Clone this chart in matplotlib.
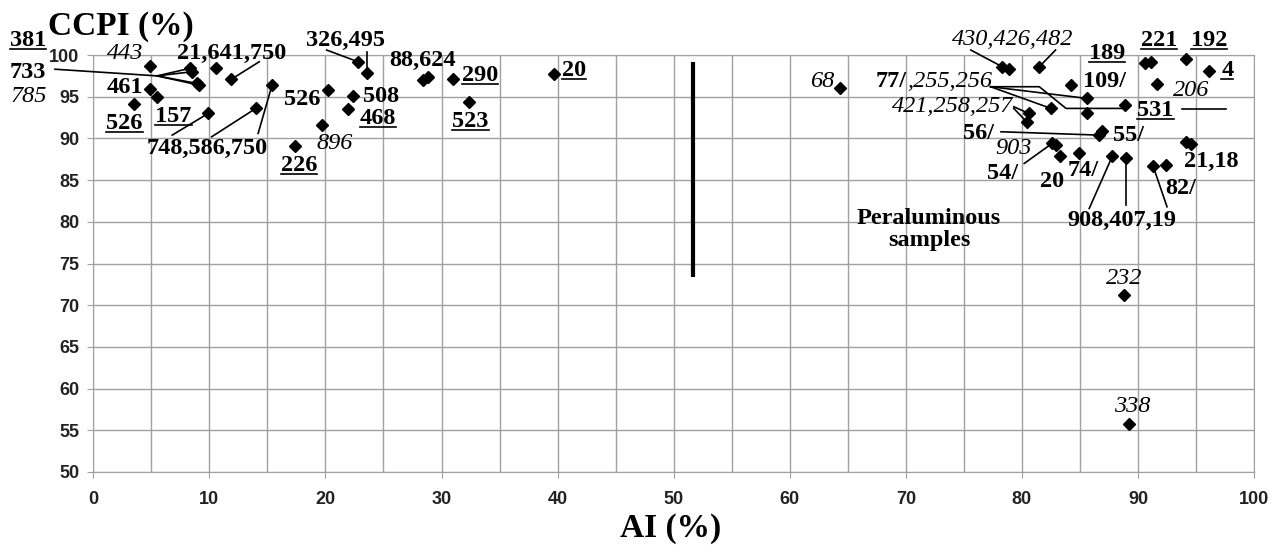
import matplotlib.pyplot as plt
from matplotlib.lines import Line2D

# AI (%) and CCPI (%)
ai = [4.9, 8.3, 8.5, 8.9, 9.1, 10.6, 11.9, 4.9, 5.5, 3.5, 9.9, 14.0, 15.4, 17.4, 19.7, 20.2,
      22.8, 23.6, 22.4, 21.9, 28.4, 28.8, 31.0, 32.4, 39.7,
      64.3, 78.3, 78.9, 81.5, 84.2, 85.6, 82.5, 85.6, 88.9, 80.6, 80.4, 86.6, 86.9,
      82.6, 82.9, 83.3, 84.9, 87.8, 89.0, 91.3, 92.4, 94.1, 94.6,
      90.6, 91.1, 94.1, 96.1, 91.6, 88.8, 89.2]
ccpi = [98.7, 98.4, 98.0, 96.6, 96.4, 98.4, 97.1, 95.9, 95.0, 94.1, 93.0, 93.6, 96.4, 89.1, 91.6, 95.8,
        99.2, 97.8, 95.1, 93.5, 97.0, 97.4, 97.1, 94.4, 97.7,
        96.0, 98.6, 98.3, 98.6, 96.4, 94.8, 93.6, 93.0, 94.0, 93.0, 92.0, 90.4, 90.9,
        89.4, 89.2, 87.9, 88.2, 87.9, 87.6, 86.7, 86.8, 89.6, 89.3,
        99.0, 99.2, 99.5, 98.1, 96.5, 71.2, 55.8]

# boundary bar
bar_x = [51.7, 51.7]
bar_y = [73.4, 99.2]

# sample labels: text, x, y, weight, style, underline
labels = [
    ("381", -5.6, 101.8, "bold", "normal", True),
    ("733", -5.6, 97.9, "bold", "normal", False),
    ("785", -5.6, 95.0, "normal", "italic", False),
    ("443", 2.7, 100.2, "normal", "italic", False),
    ("461", 2.7, 96.1, "bold", "normal", False),
    ("526", 2.7, 91.8, "bold", "normal", True),
    ("157", 6.9, 92.6, "bold", "normal", True),
    ("21,641,750", 11.9, 100.2, "bold", "normal", False),
    ("748,586,750", 9.8, 88.8, "bold", "normal", False),
    ("526", 18.0, 94.7, "bold", "normal", False),
    ("226", 17.7, 86.8, "bold", "normal", True),
    ("896", 20.8, 89.4, "normal", "italic", False),
    ("326,495", 21.7, 101.8, "bold", "normal", False),
    ("508", 24.8, 95.0, "bold", "normal", False),
    ("468", 24.5, 92.4, "bold", "normal", True),
    ("88,624", 28.4, 99.3, "bold", "normal", False),
    ("290", 33.3, 97.6, "bold", "normal", True),
    ("523", 32.5, 92.0, "bold", "normal", True),
    ("20", 41.4, 98.2, "bold", "normal", True),
    ("68", 62.8, 96.8, "normal", "italic", False),
    ("430,426,482", 79.2, 101.9, "normal", "italic", False),
    ("189", 87.3, 100.2, "bold", "normal", True),
    ("221", 91.8, 101.8, "bold", "normal", True),
    ("192", 96.1, 101.8, "bold", "normal", True),
    ("4", 97.7, 98.2, "bold", "normal", True),
    ("109/", 87.1, 96.8, "bold", "normal", False),
    ("206", 94.6, 95.8, "normal", "italic", False),
    ("421,258,257", 74.0, 93.8, "normal", "italic", False),
    ("531", 91.5, 93.4, "bold", "normal", True),
    ("56/", 76.3, 90.6, "bold", "normal", False),
    ("55/", 89.2, 90.4, "bold", "normal", False),
    ("903", 79.3, 88.8, "normal", "italic", False),
    ("54/", 78.3, 85.8, "bold", "normal", False),
    ("20", 82.6, 84.8, "bold", "normal", False),
    ("74/", 85.3, 86.2, "bold", "normal", False),
    ("908,407,19", 88.6, 80.2, "bold", "normal", False),
    ("82/", 93.7, 84.0, "bold", "normal", False),
    ("21,18", 96.3, 87.2, "bold", "normal", False),
    ("232", 88.8, 73.2, "normal", "italic", False),
    ("338", 89.5, 57.8, "normal", "italic", False),
]

# leader lines (x list, y list)
leaders = [
    ([-3.3, 5.5], [98.3, 97.5]),
    ([5.5, 8.3], [97.5, 98.4]), ([5.5, 8.5], [97.5, 98.0]),
    ([5.5, 8.9], [97.5, 96.6]), ([5.5, 9.1], [97.5, 96.4]),
    ([14.3, 11.9], [99.2, 97.1]),
    ([6.8, 9.9], [90.4, 93.0]),
    ([10.2, 14.0], [90.2, 93.6]),
    ([14.2, 15.4], [90.6, 96.4]),
    ([20.1, 22.8], [100.6, 99.2]),
    ([23.6, 23.6], [100.4, 97.8]),
    ([75.6, 78.3], [100.6, 98.6]),
    ([82.9, 81.5], [100.6, 98.6]),
    ([77.3, 85.6], [96.2, 94.8]),
    ([77.3, 82.5], [96.2, 93.6]),
    ([77.3, 81.5, 83.8, 88.9], [96.2, 96.2, 93.6, 93.6]),
    ([79.3, 80.6], [93.8, 93.0]), ([79.3, 80.4], [93.6, 92.0]),
    ([78.2, 86.6], [90.8, 90.4]),
    ([80.2, 82.6], [87.0, 89.4]),
    ([85.8, 87.8], [81.6, 87.9]),
    ([89.0, 89.0], [82.0, 87.6]),
    ([92.5, 91.3], [81.8, 86.7]),
    ([93.8, 97.6], [93.5, 93.5]),
]

serif = "Liberation Serif"
grid_c = "#a0a0a0"
fs = 17.5

fig = plt.figure(figsize=(12.87, 5.45), dpi=100)
ax = fig.add_axes([0.0725, 0.134, 0.9019, 0.765])

ax.set_xlim(0, 100)
ax.set_ylim(50, 100)
ax.set_xticks(range(0, 101, 10))
ax.set_xticks(range(5, 100, 10), minor=True)
ax.set_yticks(range(50, 101, 5))
ax.grid(True, which="both", color=grid_c, lw=1)
for s in ax.spines.values():
    s.set_color(grid_c)
ax.tick_params(axis="both", which="major", color=grid_c, length=4, direction="out")
ax.tick_params(axis="x", which="minor", length=0)
ax.tick_params(axis="x", pad=10)
ax.tick_params(axis="y", pad=6)
for t in ax.get_xticklabels() + ax.get_yticklabels():
    t.set_fontfamily("Liberation Sans")
    t.set_fontweight("bold")
    t.set_fontsize(13)
    t.set_color("#222222")

for lx, ly in leaders:
    ax.plot(lx, ly, color="k", lw=1.2, clip_on=False, zorder=3)

ax.plot(bar_x, bar_y, color="k", lw=3, solid_capstyle="butt", zorder=3)
ax.plot(ai, ccpi, "D", color="k", ms=6.5, clip_on=False, zorder=4)

under = []
for txt, tx, ty, w, st, u in labels:
    t = ax.text(tx, ty, txt, family=serif, fontsize=fs, fontweight=w, fontstyle=st,
                ha="center", va="center", zorder=5)
    if u:
        under.append(t)

ax.text(70.1, 96.8, "77/", family=serif, fontsize=fs, fontweight="bold",
        ha="right", va="center", zorder=5)
ax.text(70.1, 96.8, ",255,256", family=serif, fontsize=fs, fontstyle="italic",
        ha="left", va="center", zorder=5)
ax.text(72.0, 79.1, "Peraluminous\nsamples", family=serif, fontsize=fs, fontweight="bold",
        ha="center", va="center", linespacing=1.05, zorder=5)

fig.text(48 / 1287, 1 - 35 / 545, "CCPI (%)", family=serif, fontsize=24,
         fontweight="bold", va="baseline")
fig.text(620 / 1287, 1 - 537 / 545, "AI (%)", family=serif, fontsize=24,
         fontweight="bold", va="baseline")

fig.canvas.draw()
r = fig.canvas.get_renderer()
inv = fig.transFigure.inverted()
for t in under:
    bb = t.get_window_extent(r)
    (x0, y0), (x1, _) = inv.transform([(bb.x0, bb.y0 + 2), (bb.x1, bb.y0 + 2)])
    fig.add_artist(Line2D([x0, x1], [y0, y0], color="k", lw=1.2))

fig.savefig("out.png", dpi=100)
